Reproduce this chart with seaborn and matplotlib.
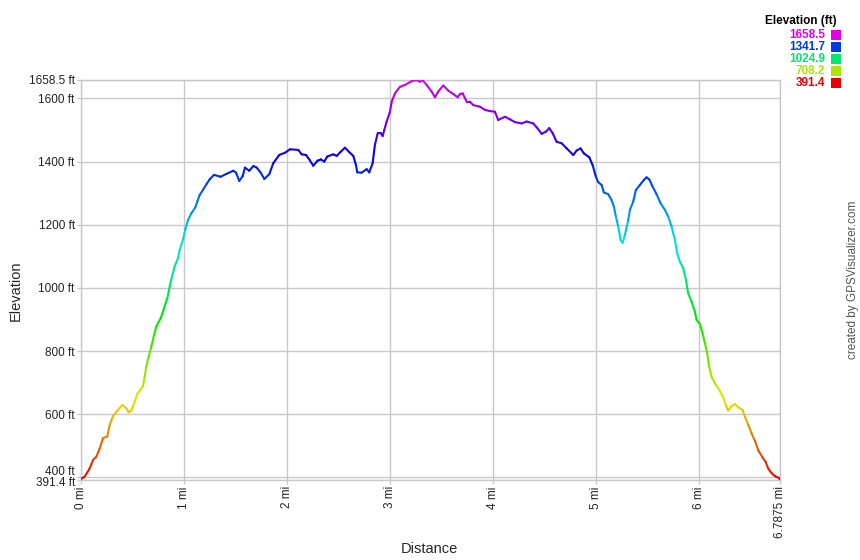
import numpy as np
import matplotlib
matplotlib.use("Agg")
import matplotlib.pyplot as plt
import matplotlib.colors as mcolors
import matplotlib.transforms as mtransforms
from matplotlib.collections import LineCollection
import seaborn as sns

# elevation profile
distance_mi = [0.000, 0.036, 0.084, 0.117, 0.149, 0.182, 0.214, 0.255, 0.279, 0.311,
               0.359, 0.401, 0.440, 0.463, 0.488, 0.521, 0.547, 0.602, 0.618, 0.634,
               0.657, 0.683, 0.709, 0.731, 0.774, 0.806, 0.838, 0.861, 0.883, 0.910,
               0.942, 0.958, 0.990, 1.013, 1.039, 1.071, 1.110, 1.129, 1.152, 1.184,
               1.217, 1.250, 1.291, 1.356, 1.411, 1.479, 1.505, 1.537, 1.570, 1.592,
               1.634, 1.673, 1.706, 1.745, 1.780, 1.828, 1.867, 1.925, 1.981, 2.029,
               2.110, 2.143, 2.184, 2.217, 2.255, 2.298, 2.330, 2.362, 2.391, 2.450,
               2.483, 2.521, 2.563, 2.605, 2.644, 2.670, 2.683, 2.725, 2.774, 2.799,
               2.832, 2.854, 2.881, 2.910, 2.929, 2.945, 2.968, 3.000, 3.017, 3.049,
               3.097, 3.146, 3.211, 3.259, 3.291, 3.317, 3.356, 3.405, 3.437, 3.469,
               3.518, 3.566, 3.615, 3.657, 3.680, 3.706, 3.745, 3.777, 3.809, 3.874,
               3.922, 3.971, 4.019, 4.051, 4.117, 4.165, 4.214, 4.279, 4.327, 4.391,
               4.424, 4.473, 4.515, 4.547, 4.580, 4.618, 4.667, 4.716, 4.780, 4.813,
               4.851, 4.883, 4.935, 4.968, 5.000, 5.022, 5.055, 5.078, 5.119, 5.152,
               5.175, 5.194, 5.217, 5.240, 5.259, 5.282, 5.314, 5.330, 5.362, 5.388,
               5.427, 5.466, 5.492, 5.518, 5.550, 5.589, 5.628, 5.670, 5.702, 5.735,
               5.767, 5.789, 5.816, 5.848, 5.874, 5.896, 5.929, 5.961, 5.978, 6.010,
               6.036, 6.058, 6.081, 6.100, 6.123, 6.155, 6.197, 6.230, 6.262, 6.284,
               6.317, 6.350, 6.382, 6.424, 6.447, 6.479, 6.512, 6.544, 6.576, 6.618,
               6.648, 6.673, 6.706, 6.738, 6.780, 6.7875]
elevation_ft = [395, 402, 428, 455, 465, 492, 524, 529, 566, 594,
                613, 629, 619, 606, 611, 639, 664, 689, 719, 750,
                782, 814, 851, 877, 904, 935, 967, 1004, 1035, 1069,
                1094, 1120, 1152, 1186, 1215, 1236, 1255, 1273, 1294, 1310,
                1328, 1344, 1358, 1352, 1361, 1371, 1365, 1339, 1354, 1381,
                1371, 1386, 1381, 1365, 1345, 1360, 1395, 1421, 1428, 1439,
                1437, 1423, 1421, 1407, 1387, 1403, 1407, 1400, 1416, 1423,
                1418, 1431, 1444, 1430, 1418, 1389, 1366, 1365, 1376, 1366,
                1395, 1453, 1490, 1490, 1481, 1500, 1527, 1558, 1590, 1616,
                1637, 1643, 1655, 1658.5, 1653, 1658, 1643, 1622, 1604, 1622,
                1641, 1625, 1614, 1604, 1614, 1616, 1590, 1590, 1579, 1574,
                1564, 1560, 1558, 1532, 1542, 1534, 1525, 1521, 1527, 1521,
                1509, 1488, 1495, 1506, 1490, 1463, 1458, 1442, 1421, 1435,
                1442, 1426, 1414, 1389, 1352, 1335, 1326, 1302, 1297, 1278,
                1257, 1226, 1194, 1152, 1143, 1168, 1215, 1247, 1273, 1310,
                1326, 1342, 1350, 1344, 1321, 1297, 1268, 1247, 1226, 1194,
                1152, 1110, 1083, 1062, 1025, 983, 956, 925, 898, 886,
                856, 825, 793, 750, 719, 698, 677, 658, 629, 611,
                626, 632, 622, 613, 592, 566, 539, 516, 486, 463,
                449, 428, 413, 404, 397, 391.4]

y_ticks = [391.4, 400, 600, 800, 1000, 1200, 1400, 1600, 1658.5]
y_tick_labels = ["391.4 ft", "400 ft", "600 ft", "800 ft", "1000 ft", "1200 ft",
                 "1400 ft", "1600 ft", "1658.5 ft"]
x_ticks = [0, 1, 2, 3, 4, 5, 6, 6.7875]
x_tick_labels = ["0 mi", "1 mi", "2 mi", "3 mi", "4 mi", "5 mi", "6 mi", "6.7875 mi"]
legend_values = [1658.5, 1341.7, 1024.9, 708.2, 391.4]

sns.set_style("white")
plt.rcParams['font.family'] = ['Liberation Sans', 'DejaVu Sans']

e_min, e_max = 391.4, 1658.5
grid_col = "#c8c8c8"


def elev_color(e):
    h = (e - e_min) / (e_max - e_min) * 300.0 / 360.0
    return mcolors.hsv_to_rgb((h, 1.0, 0.9))


fig = plt.figure(figsize=(8.6, 5.6), dpi=100)
ax = fig.add_axes([81 / 860, 1 - 480 / 560, 699 / 860, 400 / 560])

x = np.array(distance_mi)
y = np.array(elevation_ft)
pts = np.column_stack([x, y]).reshape(-1, 1, 2)
segs = np.concatenate([pts[:-1], pts[1:]], axis=1)
cols = [elev_color((a + b) / 2) for a, b in zip(y[:-1], y[1:])]
ax.add_collection(LineCollection(segs, colors=cols, linewidths=1.5,
                                 capstyle="round", joinstyle="round", zorder=3))

ax.set_xlim(0, 6.7875)
ax.set_ylim(e_min, e_max)
ax.set_xticks(x_ticks)
ax.set_xticklabels(x_tick_labels, rotation=90, fontsize=8.5, color="#222222")
ax.set_yticks(y_ticks)
ax.set_yticklabels(y_tick_labels, fontsize=8.5, color="#222222")
ax.grid(True, color=grid_col, linewidth=1)
ax.tick_params(axis="both", length=3, width=1, color=grid_col, pad=1.5,
               bottom=True, left=True)
for s in ax.spines.values():
    s.set_color(grid_col)
    s.set_linewidth(1)

# nudge the crowded end labels apart like the original
ylabels = ax.get_yticklabels()
shifts = {1: 7, 0: -2}
for i, dy in shifts.items():
    off = mtransforms.ScaledTranslation(0, dy / 100, fig.dpi_scale_trans)
    ylabels[i].set_transform(ylabels[i].get_transform() + off)

fig.text(429 / 860, 1 - 549 / 560, "Distance", ha="center", va="center", fontsize=10.5)
fig.text(16 / 860, 1 - 291 / 560, "Elevation", ha="center", va="center",
         rotation=90, fontsize=10.5)

# legend on the top right
fig.text(837 / 860, 1 - 21 / 560, "Elevation (ft)", ha="right", va="center",
         fontsize=8.5, fontweight="bold", color="#000000")
for i, v in enumerate(legend_values):
    yy = 35 + i * 12
    c = elev_color(v)
    fig.text(825 / 860, 1 - yy / 560, f"{v:.1f}", ha="right", va="center",
             fontsize=8.5, fontweight="bold", color=c)
    fig.patches.append(plt.Rectangle((831 / 860, 1 - (yy + 5) / 560), 10 / 860, 10 / 560,
                                     transform=fig.transFigure, facecolor=c,
                                     edgecolor="none"))

fig.text(853 / 860, 1 - 280 / 560, "created by GPSVisualizer.com", rotation=90,
         ha="center", va="center", fontsize=8.5, color="#555555")

fig.savefig("out.png", dpi=100, facecolor="white")
